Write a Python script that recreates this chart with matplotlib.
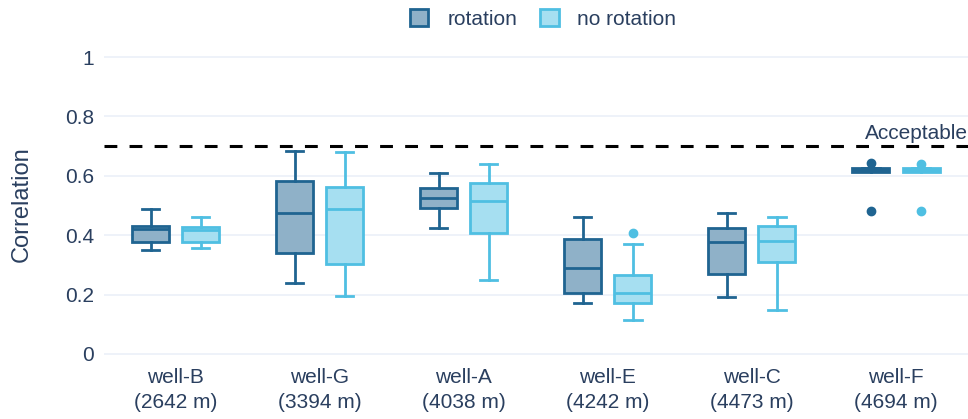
import matplotlib
matplotlib.use("Agg")
import matplotlib.pyplot as plt
from matplotlib.patches import Patch

plt.rcParams['font.family'] = ['Liberation Sans', 'DejaVu Sans']

wells = ["well-B", "well-G", "well-A", "well-E", "well-C", "well-F"]
depths = ["2642 m", "3394 m", "4038 m", "4242 m", "4473 m", "4694 m"]

# box statistics per well: lower whisker, Q1, median, Q3, upper whisker, outliers
rot_whislo = [0.350, 0.240, 0.425, 0.171, 0.193, 0.620]
rot_q1     = [0.378, 0.339, 0.493, 0.204, 0.269, 0.614]
rot_med    = [0.420, 0.476, 0.524, 0.291, 0.378, 0.620]
rot_q3     = [0.431, 0.584, 0.558, 0.387, 0.423, 0.626]
rot_whishi = [0.488, 0.683, 0.608, 0.462, 0.476, 0.626]
rot_fliers = [[], [], [], [], [], [0.642, 0.483]]

nor_whislo = [0.357, 0.195, 0.249, 0.114, 0.148, 0.620]
nor_q1     = [0.376, 0.303, 0.406, 0.173, 0.311, 0.614]
nor_med    = [0.418, 0.490, 0.515, 0.204, 0.381, 0.620]
nor_q3     = [0.428, 0.561, 0.575, 0.266, 0.431, 0.626]
nor_whishi = [0.460, 0.680, 0.639, 0.369, 0.460, 0.626]
nor_fliers = [[], [], [], [0.406], [], [0.641, 0.480]]

threshold = 0.7
y_ticks = [0, 0.2, 0.4, 0.6, 0.8, 1]

text_color = "#2a3f5f"
grid_color = "#ebf0f8"
rot_line, rot_fill = "#1f6491", "#8fb1c8"
nor_line, nor_fill = "#4fbfe2", "#a6dff1"


def make_stats(lo, q1, med, q3, hi, fl):
    return [dict(whislo=a, q1=b, med=c, q3=d, whishi=e, fliers=f)
            for a, b, c, d, e, f in zip(lo, q1, med, q3, hi, fl)]


fig = plt.figure(figsize=(9.68, 4.19), dpi=100)
ax = fig.add_axes([0.107, 0.134, 0.893, 0.758])

offset = 0.174
width = 0.257
cap = 0.12
n = len(wells)

for stats, sign, line, fill in [
    (make_stats(rot_whislo, rot_q1, rot_med, rot_q3, rot_whishi, rot_fliers), -1, rot_line, rot_fill),
    (make_stats(nor_whislo, nor_q1, nor_med, nor_q3, nor_whishi, nor_fliers), 1, nor_line, nor_fill),
]:
    pos = [i + sign * offset for i in range(n)]
    ax.bxp(stats, positions=pos, widths=width, capwidths=cap, patch_artist=True,
           manage_ticks=False, zorder=3,
           boxprops=dict(facecolor=fill, edgecolor=line, linewidth=2.0),
           medianprops=dict(color=line, linewidth=2.0),
           whiskerprops=dict(color=line, linewidth=2.0),
           capprops=dict(color=line, linewidth=2.0),
           flierprops=dict(marker='o', markerfacecolor=line, markeredgecolor=line,
                           markersize=6, linestyle='none'))

ax.axhline(threshold, color='black', linewidth=2.2, linestyle=(0, (4.2, 4.0)), zorder=4)
ax.text(n - 0.5, threshold + 0.012, "Acceptable", ha='right', va='bottom',
        fontsize=15, color=text_color, zorder=5, clip_on=False)

ax.set_xlim(-0.5, n - 0.5)
ax.set_ylim(-0.03, 1.04)
ax.set_yticks(y_ticks)
ax.set_yticklabels([f"{t:g}" for t in y_ticks])
ax.set_xticks(range(n))
ax.set_xticklabels([f"{w}\n({d})" for w, d in zip(wells, depths)], linespacing=1.4)
ax.tick_params(axis='both', length=0, labelsize=15, labelcolor=text_color)
ax.tick_params(axis='y', pad=7)
ax.tick_params(axis='x', pad=4)
ax.grid(axis='y', color=grid_color, linewidth=1.2, zorder=0)
ax.set_axisbelow(True)
for s in ax.spines.values():
    s.set_visible(False)
ax.set_ylabel("Correlation", fontsize=17, color=text_color, labelpad=23)

handles = [Patch(facecolor=rot_fill, edgecolor=rot_line, linewidth=2.0, label="rotation"),
           Patch(facecolor=nor_fill, edgecolor=nor_line, linewidth=2.0, label="no rotation")]
fig.legend(handles=handles, loc='center', bbox_to_anchor=(0.561, 0.955), ncol=2,
           frameon=False, fontsize=15, labelcolor=text_color, handlelength=0.9,
           handleheight=0.9, handletextpad=0.9, columnspacing=1.1)

fig.savefig("out.png", dpi=100, facecolor='white')
